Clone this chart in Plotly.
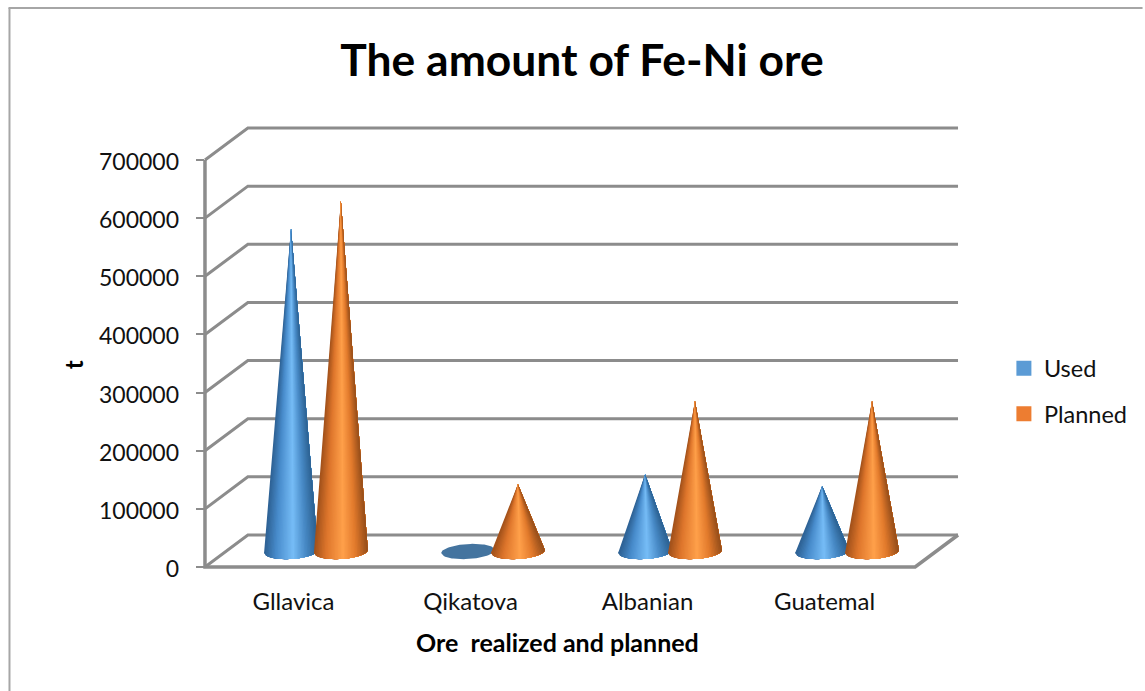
import math
import plotly.graph_objects as go

categories = ["Gllavica", "Qikatova", "Albanian", "Guatemal"]
used = [555000, 0, 132000, 112000]
planned = [602000, 115000, 258000, 258000]
y_ticks = [0, 100000, 200000, 300000, 400000, 500000, 600000, 700000]

W, H = 1145, 691
# plot frame (a little larger than the drawn box so thick lines are not clipped)
L, R, T, B = 196, 968, 120, 573
# pixel positions of the drawn box
BOX_L, BOX_R, BOX_B = 205, 960, 567
PX_X = 1 / 177.5            # category units per pixel
PX_Y = 700000 / 407         # value units per pixel
DX, DY = 43 * PX_X, 32 * PX_Y
X0 = -0.5
X_END = X0 + (BOX_R - BOX_L) * PX_X
X_RANGE = [X0 - (BOX_L - L) * PX_X, X0 + (R - BOX_L) * PX_X]
Y_RANGE = [-(B - BOX_B) * PX_Y, (BOX_B - T) * PX_Y]
GRID = "#8c8c8c"
FONT = "Lato"


def lerp_stops(stops, t):
    for (a, ca), (b, cb) in zip(stops, stops[1:]):
        if a <= t <= b:
            f = (t - a) / (b - a)
            rgb = [round(ca[i] + (cb[i] - ca[i]) * f) for i in range(3)]
            return "rgb(%d,%d,%d)" % tuple(rgb)
    return "rgb(%d,%d,%d)" % stops[-1][1]


BLUE = [(-1, (45, 96, 146)), (-0.55, (72, 140, 204)), (0.08, (118, 188, 246)),
        (0.55, (72, 138, 198)), (1, (44, 98, 146))]
ORANGE = [(-1, (160, 80, 26)), (-0.55, (222, 118, 44)), (0.08, (255, 160, 74)),
          (0.55, (226, 122, 44)), (1, (150, 78, 26))]

RX = 27 * PX_X
RY = 7.5 * PX_Y
TILT = 1.5 * PX_Y
N = 36


def base_point(cx, t, front=True):
    s = math.sqrt(max(0.0, 1 - t * t))
    yc = DY / 2 - 0.5 * PX_Y
    return cx + RX * t, yc + (-RY * s if front else RY * s) + TILT * t


def add_series(fig, values, offset, stops, base_color):
    # ground ellipse
    ex, ey = [], []
    for i, v in enumerate(values):
        cx = i + DX / 2 + offset
        for k in range(41):
            x, y = base_point(cx, -1 + 2 * k / 40, True)
            ex.append(x); ey.append(y)
        for k in range(41):
            x, y = base_point(cx, 1 - 2 * k / 40, False)
            ex.append(x); ey.append(y)
        ex.append(None); ey.append(None)
    fig.add_trace(go.Scatter(x=ex, y=ey, mode="lines", fill="toself", fillcolor=base_color,
                             line=dict(width=0), hoverinfo="skip", showlegend=False))
    # shaded cone bodies: each layer covers its band and everything to its right,
    # so no seams appear between bands
    for k in range(N):
        t0 = -1 + 2 * k / N
        col = lerp_stops(stops, t0 + 1 / N)
        xs, ys = [], []
        for i, v in enumerate(values):
            if v <= 0:
                continue
            cx = i + DX / 2 + offset
            apex_y = v + DY / 2
            xs.append(cx); ys.append(apex_y)
            for j in range(25):
                x, y = base_point(cx, t0 + (1 - t0) * j / 24)
                xs.append(x); ys.append(y)
            xs.append(cx); ys.append(apex_y)
            xs.append(None); ys.append(None)
        fig.add_trace(go.Scatter(x=xs, y=ys, mode="lines", fill="toself", fillcolor=col,
                                 line=dict(width=0), hoverinfo="skip", showlegend=False))


fig = go.Figure()

# back wall gridlines with their side-wall return
gx, gy = [], []
for v in y_ticks:
    gx += [X0, X0 + DX, X_END, None]
    gy += [v, v + DY, v + DY, None]
fig.add_trace(go.Scatter(x=gx, y=gy, mode="lines", line=dict(color=GRID, width=3),
                         hoverinfo="skip", showlegend=False))
# front floor edge, right floor edge, vertical axis
fig.add_trace(go.Scatter(x=[X_END, X_END - DX, X0, X0], y=[DY, 0, 0, y_ticks[-1]], mode="lines",
                         line=dict(color=GRID, width=3.5), hoverinfo="skip", showlegend=False))

add_series(fig, used, -24 * PX_X, BLUE, "#44749f")
add_series(fig, planned, 26 * PX_X, ORANGE, "#b5602a")

# legend entries
fig.add_trace(go.Scatter(x=[None], y=[None], mode="markers", name="Used", legendgroup="a",
                         marker=dict(symbol="square", size=15, color="#5b9bd5")))
fig.add_trace(go.Scatter(x=[None], y=[None], mode="markers", name="Planned", legendgroup="b",
                         marker=dict(symbol="square", size=15, color="#ed7d31")))

ex_paper = lambda px: (px - L) / (R - L)
ey_paper = lambda py: (B - py) / (B - T)

fig.update_layout(
    width=W, height=H,
    margin=dict(l=L, r=W - R, t=T, b=H - B, pad=0),
    paper_bgcolor="white", plot_bgcolor="white",
    font=dict(family=FONT, color="#111111", size=23),
    title=dict(text="<b>The amount of Fe-Ni ore</b>", font=dict(family=FONT, size=44.4, color="#000000"),
               x=582 / W, xanchor="center", y=1 - 60 / H, yanchor="middle"),
    xaxis=dict(range=X_RANGE, tickmode="array", tickvals=list(range(len(categories))),
               ticktext=categories, showgrid=False, zeroline=False, showline=False, ticks="",
               tickfont=dict(size=24), ticklabelstandoff=12, automargin=False, fixedrange=True),
    yaxis=dict(range=Y_RANGE, tickmode="array", tickvals=y_ticks, showgrid=False, zeroline=False,
               showline=False, ticks="inside", ticklen=8, tickwidth=1.5, tickcolor=GRID,
               tickfont=dict(size=23), ticklabelstandoff=16, ticklabelshift=2, tickformat="d",
               automargin=False, fixedrange=True),
    legend=dict(x=ex_paper(1006), xanchor="left", y=ey_paper(346.5), yanchor="top",
                tracegroupgap=12, font=dict(size=23.5), bgcolor="rgba(0,0,0,0)"),
    annotations=[
        dict(text="<b>Ore  realized and planned</b>", xref="paper", yref="paper",
             x=ex_paper(558), y=ey_paper(642), showarrow=False, xanchor="center", yanchor="middle",
             font=dict(size=25, family=FONT, color="#000000")),
        dict(text="<b>t</b>", xref="paper", yref="paper", x=ex_paper(73), y=ey_paper(365),
             showarrow=False, textangle=-90, xanchor="center", yanchor="middle",
             font=dict(size=24, family=FONT, color="#000000")),
    ],
    shapes=[
        dict(type="line", xref="paper", yref="paper", x0=ex_paper(8), x1=ex_paper(W),
             y0=ey_paper(8), y1=ey_paper(8), line=dict(color="#a6a6a6", width=2)),
        dict(type="line", xref="paper", yref="paper", x0=ex_paper(9), x1=ex_paper(9),
             y0=ey_paper(8), y1=ey_paper(H), line=dict(color="#a6a6a6", width=2)),
    ],
)

fig.write_html("out.html", config=dict(displayModeBar=False),
               post_script="document.body.style.margin='0';document.body.style.overflow='hidden';")
